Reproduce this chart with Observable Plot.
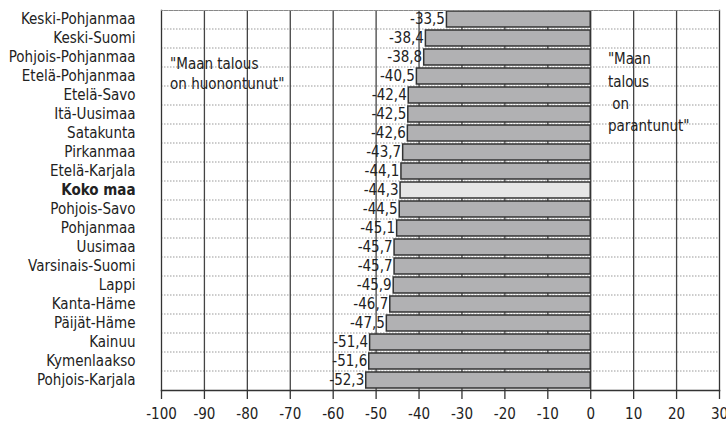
<!DOCTYPE html>
<html><head><meta charset="utf-8">
<script src="https://cdn.jsdelivr.net/npm/d3@7"></script>
<script src="https://cdn.jsdelivr.net/npm/@observablehq/plot@0.6"></script>
<style>
body{margin:0;background:#fff}
svg{font-family:"DejaVu Sans Condensed","DejaVu Sans",sans-serif;font-stretch:condensed}
</style>
</head><body><div id="chart"></div>
<script>
const regions = ["Keski-Pohjanmaa","Keski-Suomi","Pohjois-Pohjanmaa","Etelä-Pohjanmaa","Etelä-Savo","Itä-Uusimaa","Satakunta","Pirkanmaa","Etelä-Karjala","Koko maa","Pohjois-Savo","Pohjanmaa","Uusimaa","Varsinais-Suomi","Lappi","Kanta-Häme","Päijät-Häme","Kainuu","Kymenlaakso","Pohjois-Karjala"];
const values = [-33.5,-38.4,-38.8,-40.5,-42.4,-42.5,-42.6,-43.7,-44.1,-44.3,-44.5,-45.1,-45.7,-45.7,-45.9,-46.7,-47.5,-51.4,-51.6,-52.3];
const xTicks = [-100,-90,-80,-70,-60,-50,-40,-30,-20,-10,0,10,20,30];
const highlight = "Koko maa";
const leftNote = "\"Maan talous\non huonontunut\"";
const rightNote = "\"Maan\ntalous\n on\nparantunut\"";

const data = regions.map((r, i) => ({region: r, value: values[i]}));
const fmt = v => v.toFixed(1).replace(".", ",");
const ink = "#222";
const fs = 15;

const chart = Plot.plot({
  width: 726, height: 423,
  marginTop: 10, marginBottom: 33, marginLeft: 161, marginRight: 7,
  style: {fontSize: fs + "px", color: ink, background: "#fff"},
  x: {domain: [-100, 30], label: null},
  y: {domain: regions, paddingInner: 0.15, paddingOuter: 0.075, label: null, axis: null},
  marks: [
    Plot.ruleY(regions.slice(1), {y: d => d, dy: -9.5, stroke: "#999", strokeDasharray: "1.5,1.5", strokeWidth: 1}),
    Plot.ruleX(xTicks.slice(1, -1), {stroke: "#444", strokeWidth: 1.3}),
    Plot.barX(data, {x: "value", y: "region", fill: d => d.region === highlight ? "#e6e6e6" : "#b1b1b3", stroke: "#333", strokeWidth: 1.5}),
    Plot.text(data, {x: "value", y: "region", text: d => fmt(d.value), textAnchor: "end", dx: -2, fontSize: fs, fill: ink}),
    Plot.text(data.filter(d => d.region !== highlight), {y: "region", text: "region", frameAnchor: "left", textAnchor: "end", dx: -26, fontSize: fs, fill: ink}),
    Plot.text(data.filter(d => d.region === highlight), {y: "region", text: "region", frameAnchor: "left", textAnchor: "end", dx: -26, fontSize: fs, fontWeight: "bold", fill: ink}),
    Plot.text([leftNote], {x: () => -98, y: () => "Etelä-Pohjanmaa", text: d => d, textAnchor: "start", lineHeight: 1.33, dy: -3.5, fontSize: fs, fill: ink}),
    Plot.text([rightNote], {x: () => 4, y: () => "Etelä-Savo", text: d => d, textAnchor: "start", lineHeight: 1.48, dy: -5, fontSize: fs, fill: ink}),
    Plot.frame({anchor: "left", stroke: "#333", strokeWidth: 1.3}),
    Plot.frame({anchor: "right", stroke: "#333", strokeWidth: 1.3}),
    Plot.frame({anchor: "bottom", stroke: "#333", strokeWidth: 1.3}),
    Plot.frame({anchor: "top", stroke: "#888", strokeDasharray: "1.5,1", strokeWidth: 1}),
    Plot.axisX({ticks: xTicks, tickFormat: d => String(d), tickSize: 9, tickPadding: 9, fontSize: fs, stroke: "#333", strokeWidth: 1.3, label: null})
  ]
});
document.getElementById("chart").append(chart);
</script>
</body></html>
